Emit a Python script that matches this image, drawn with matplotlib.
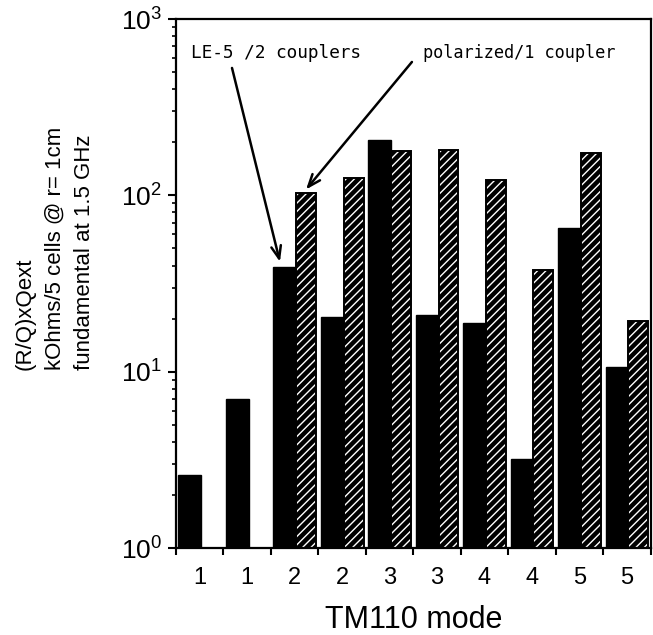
import matplotlib
matplotlib.use("Agg")
import matplotlib.pyplot as plt
import numpy as np

# Data
mode_labels = ["1", "1", "2", "2", "3", "3", "4", "4", "5", "5"]
le5_values = [2.6, 7.0, 39, 20.5, 205, 21, 19, 3.2, 65, 10.6]
polarized_values = [None, None, 103, 125, 179, 180, 122, 37.5, 173, 19.5]

plt.rcParams['hatch.linewidth'] = 1.0
plt.rcParams['font.family'] = ['Liberation Sans', 'DejaVu Sans']
plt.rcParams['mathtext.default'] = 'regular'

fig = plt.figure(figsize=(6.53, 6.35), dpi=100)
ax = fig.add_axes([0.2695, 0.137, 0.727, 0.833])

n = len(mode_labels)
x = np.arange(n)
for i in range(n):
    v = le5_values[i]
    if v is not None:
        ax.bar(x[i] + 0.05, v, width=0.48, align='edge',
               color='black', edgecolor='black', linewidth=1)
    p = polarized_values[i]
    if p is not None:
        ax.bar(x[i] + 0.53, p, width=0.42, align='edge',
               facecolor='black', edgecolor='white', linewidth=0, hatch='////')
        ax.bar(x[i] + 0.53, p, width=0.42, align='edge',
               fill=False, edgecolor='black', linewidth=1.4)

ax.set_yscale('log')
ax.set_ylim(1, 1000)
ax.set_xlim(0, n)

# x ticks: marks at group boundaries, labels at centers
ax.set_xticks(np.arange(0, n + 1))
ax.set_xticklabels([])
ax.set_xticks(x + 0.5, minor=True)
ax.set_xticklabels(mode_labels, minor=True, fontsize=17)
ax.tick_params(axis='x', which='major', direction='out', length=5, width=1.5)
ax.tick_params(axis='x', which='minor', length=0, pad=14)

ax.set_yticks([1, 10, 100, 1000])
ax.set_yticklabels([r'$10^{0}$', r'$10^{1}$', r'$10^{2}$', r'$10^{3}$'], fontsize=19)
ax.tick_params(axis='y', which='major', direction='out', length=6, width=1.5, pad=4)
ax.tick_params(axis='y', which='minor', direction='out', length=3, width=1.2)

for s in ax.spines.values():
    s.set_linewidth(1.6)

ax.set_xlabel('TM110 mode', fontsize=22, labelpad=11)

fig.text(55 / 653, 1 - 370 / 635,
         "(R/Q)xQext\nkOhms/5 cells @ r= 1cm\nfundamental at 1.5 GHz",
         rotation=90, ha='center', va='bottom', multialignment='left',
         fontsize=16, linespacing=1.55)

# Annotations
ax.text(0.32, 642, "LE-5 /2 couplers", family='DejaVu Sans Mono', fontsize=12.8,
        ha='left', va='center')
ax.text(5.2, 645, "polarized/1 coupler", family='DejaVu Sans Mono', fontsize=12.2,
        ha='left', va='center')
arrowprops = dict(arrowstyle='->,head_length=0.9,head_width=0.35', lw=1.8, color='black',
                  shrinkA=0, shrinkB=0)
ax.annotate('', xy=(2.19, 42), xytext=(1.18, 528), arrowprops=arrowprops)
ax.annotate('', xy=(2.74, 108), xytext=(4.97, 571), arrowprops=arrowprops)

fig.savefig('out.png', dpi=100)
